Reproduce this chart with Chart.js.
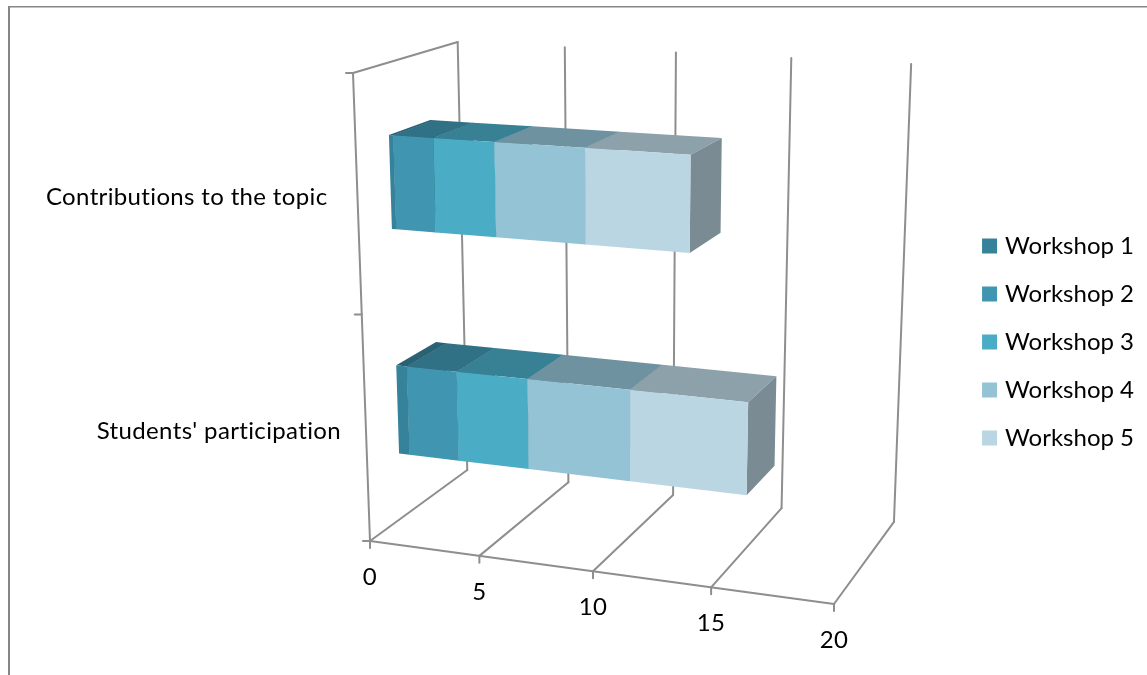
<!DOCTYPE html>
<html>
<head>
<meta charset="utf-8">
<title>Workshops</title>
<script src="https://cdn.jsdelivr.net/npm/chart.js@4"></script>
<style>
  html, body { margin: 0; padding: 0; background: #fff; overflow: hidden; }
  canvas { display: block; }
</style>
</head>
<body>
<canvas id="myChart" width="1147" height="675"></canvas>
<script>
const categories = ['Contributions to the topic', "Students' participation"];
const legends = ['Workshop 1', 'Workshop 2', 'Workshop 3', 'Workshop 4', 'Workshop 5'];

const workshop1 = [0.2, 0.5];
const workshop2 = [1.8, 2.3];
const workshop3 = [2.7, 3.2];
const workshop4 = [3.9, 4.5];
const workshop5 = [4.4, 5.0];
const seriesValues = [workshop1, workshop2, workshop3, workshop4, workshop5];

const colors = ['#36829A', '#4096B1', '#4BACC6', '#93C3D5', '#BBD6E3'];
const lineColor = '#8E8E8E';
const textColor = '#000000';
const fontFamily = 'Lato, "Noto Sans", sans-serif';

// camera for the box: u = value axis, c = category axis, d = depth, all 0..1
const cam = {
    x: [370, 401.7, -38.9, 143],
    y: [541, 17.9, -472.5, -25],
    w: [1, -0.0747, -0.062, 0.0979]
};
// bars sit in the middle of the depth axis
const barFront = 0.3;
const barBack = 0.7;

function project(u, c, d) {
    var w = cam.w[0] + cam.w[1] * u + cam.w[2] * c + cam.w[3] * d;
    return {
        x: (cam.x[0] + cam.x[1] * u + cam.x[2] * c + cam.x[3] * d) / w,
        y: (cam.y[0] + cam.y[1] * u + cam.y[2] * c + cam.y[3] * d) / w
    };
}

function shade(hex, k) {
    var n = parseInt(hex.slice(1), 16);
    var r = Math.round((n >> 16) * k);
    var g = Math.round(((n >> 8) & 255) * k);
    var b = Math.round((n & 255) * k);
    return 'rgb(' + r + ',' + g + ',' + b + ')';
}

function line(ctx, a, b) {
    ctx.beginPath();
    ctx.moveTo(a.x, a.y);
    ctx.lineTo(b.x, b.y);
    ctx.stroke();
}

function face(ctx, pts, color) {
    ctx.fillStyle = color;
    ctx.beginPath();
    pts.forEach((p, i) => {
        if (i === 0) ctx.moveTo(p.x, p.y);
        else ctx.lineTo(p.x, p.y);
    });
    ctx.closePath();
    ctx.fill();
}

function drawFrame(ctx, chart) {
    ctx.save();
    ctx.strokeStyle = '#868686';
    ctx.lineWidth = 2;
    line(ctx, { x: 9, y: 6 }, { x: 9, y: chart.height });
    ctx.lineWidth = 1.5;
    line(ctx, { x: 8, y: 6.75 }, { x: chart.width, y: 6.75 });
    ctx.restore();
}

function drawBox(ctx, chart) {
    const xScale = chart.scales.x;
    const yScale = chart.scales.y;
    const left = xScale.getPixelForValue(xScale.min);
    const right = xScale.getPixelForValue(xScale.max);

    ctx.save();
    ctx.strokeStyle = lineColor;
    ctx.lineWidth = 2;
    ctx.lineCap = 'round';

    // back wall and floor lines plus the front axis ticks
    xScale.ticks.forEach((t) => {
        var u = (xScale.getPixelForValue(t.value) - left) / (right - left);
        var front = project(u, 0, 0);
        var back = project(u, 0, 1);
        line(ctx, front, back);
        line(ctx, back, project(u, 1, 1));
        line(ctx, front, { x: front.x, y: front.y + 7 });
    });
    line(ctx, project(0, 0, 0), project(1, 0, 0));

    // side wall and category ticks
    line(ctx, project(0, 0, 0), project(0, 1, 0));
    line(ctx, project(0, 1, 0), project(0, 1, 1));
    for (var i = 0; i <= categories.length; i++) {
        var p = project(0, i / categories.length, 0);
        line(ctx, p, { x: p.x - 7, y: p.y });
    }

    // axis text
    ctx.fillStyle = textColor;
    ctx.font = '24px ' + fontFamily;
    ctx.letterSpacing = '0.35px';
    ctx.textBaseline = 'middle';
    ctx.textAlign = 'center';
    xScale.ticks.forEach((t) => {
        var u = (xScale.getPixelForValue(t.value) - left) / (right - left);
        var p = project(u, 0, 0);
        ctx.fillText(t.label, p.x, p.y + 36);
    });
    ctx.textAlign = 'right';
    categories.forEach((label, i) => {
        var c = (yScale.bottom - yScale.getPixelForValue(i)) / (yScale.bottom - yScale.top);
        var p = project(0, c, 0);
        ctx.fillText(label, p.x - 22.5 - 10 * c, p.y + 2);
    });
    ctx.restore();
}

function drawBars(ctx, chart) {
    const xScale = chart.scales.x;
    const yScale = chart.scales.y;
    const width = xScale.right - xScale.left;
    const height = yScale.bottom - yScale.top;

    chart.data.datasets.forEach((ds, i) => {
        chart.getDatasetMeta(i).data.forEach((bar) => {
            var u0 = (bar.base - xScale.left) / width;
            var u1 = (bar.x - xScale.left) / width;
            var c0 = (yScale.bottom - (bar.y + bar.height / 2)) / height;
            var c1 = (yScale.bottom - (bar.y - bar.height / 2)) / height;
            face(ctx, [project(u0, c1, barFront), project(u1, c1, barFront),
                project(u1, c1, barBack), project(u0, c1, barBack)], shade(ds.backgroundColor, 0.75));
            face(ctx, [project(u1, c0, barFront), project(u1, c1, barFront),
                project(u1, c1, barBack), project(u1, c0, barBack)], shade(ds.backgroundColor, 0.65));
            face(ctx, [project(u0, c0, barFront), project(u1, c0, barFront),
                project(u1, c1, barFront), project(u0, c1, barFront)], ds.backgroundColor);
        });
    });
}

// replaces the flat bars with the 3D box and its blocks
const box3d = {
    id: 'box3d',
    beforeDatasetsDraw(chart) {
        const ctx = chart.ctx;
        drawFrame(ctx, chart);
        drawBox(ctx, chart);
        drawBars(ctx, chart);
        return false;
    }
};

const data = {
    labels: categories,
    datasets: seriesValues.map((values, i) => ({
        label: legends[i],
        data: values,
        backgroundColor: colors[i],
        borderWidth: 0,
        categoryPercentage: 0.4,
        barPercentage: 1
    }))
};

const config = {
    type: 'bar',
    data: data,
    plugins: [box3d],
    options: {
        indexAxis: 'y',
        responsive: false,
        animation: false,
        layout: { padding: { top: 9, right: 3 } },
        scales: {
            x: { display: false, stacked: true, min: 0, max: 20, ticks: { stepSize: 5 } },
            y: { display: false, stacked: true }
        },
        plugins: {
            tooltip: { enabled: false },
            legend: {
                position: 'right',
                labels: {
                    usePointStyle: true,
                    pointStyle: 'rect',
                    boxWidth: 7,
                    boxHeight: 15,
                    padding: 24,
                    color: textColor,
                    font: { family: fontFamily, size: 24 }
                }
            }
        }
    }
};

// a little tracking keeps ligatures out of the text
const canvas = document.getElementById('myChart');
canvas.getContext('2d').letterSpacing = '0.1px';

var myChart = new Chart(canvas, config);
</script>
</body>
</html>
